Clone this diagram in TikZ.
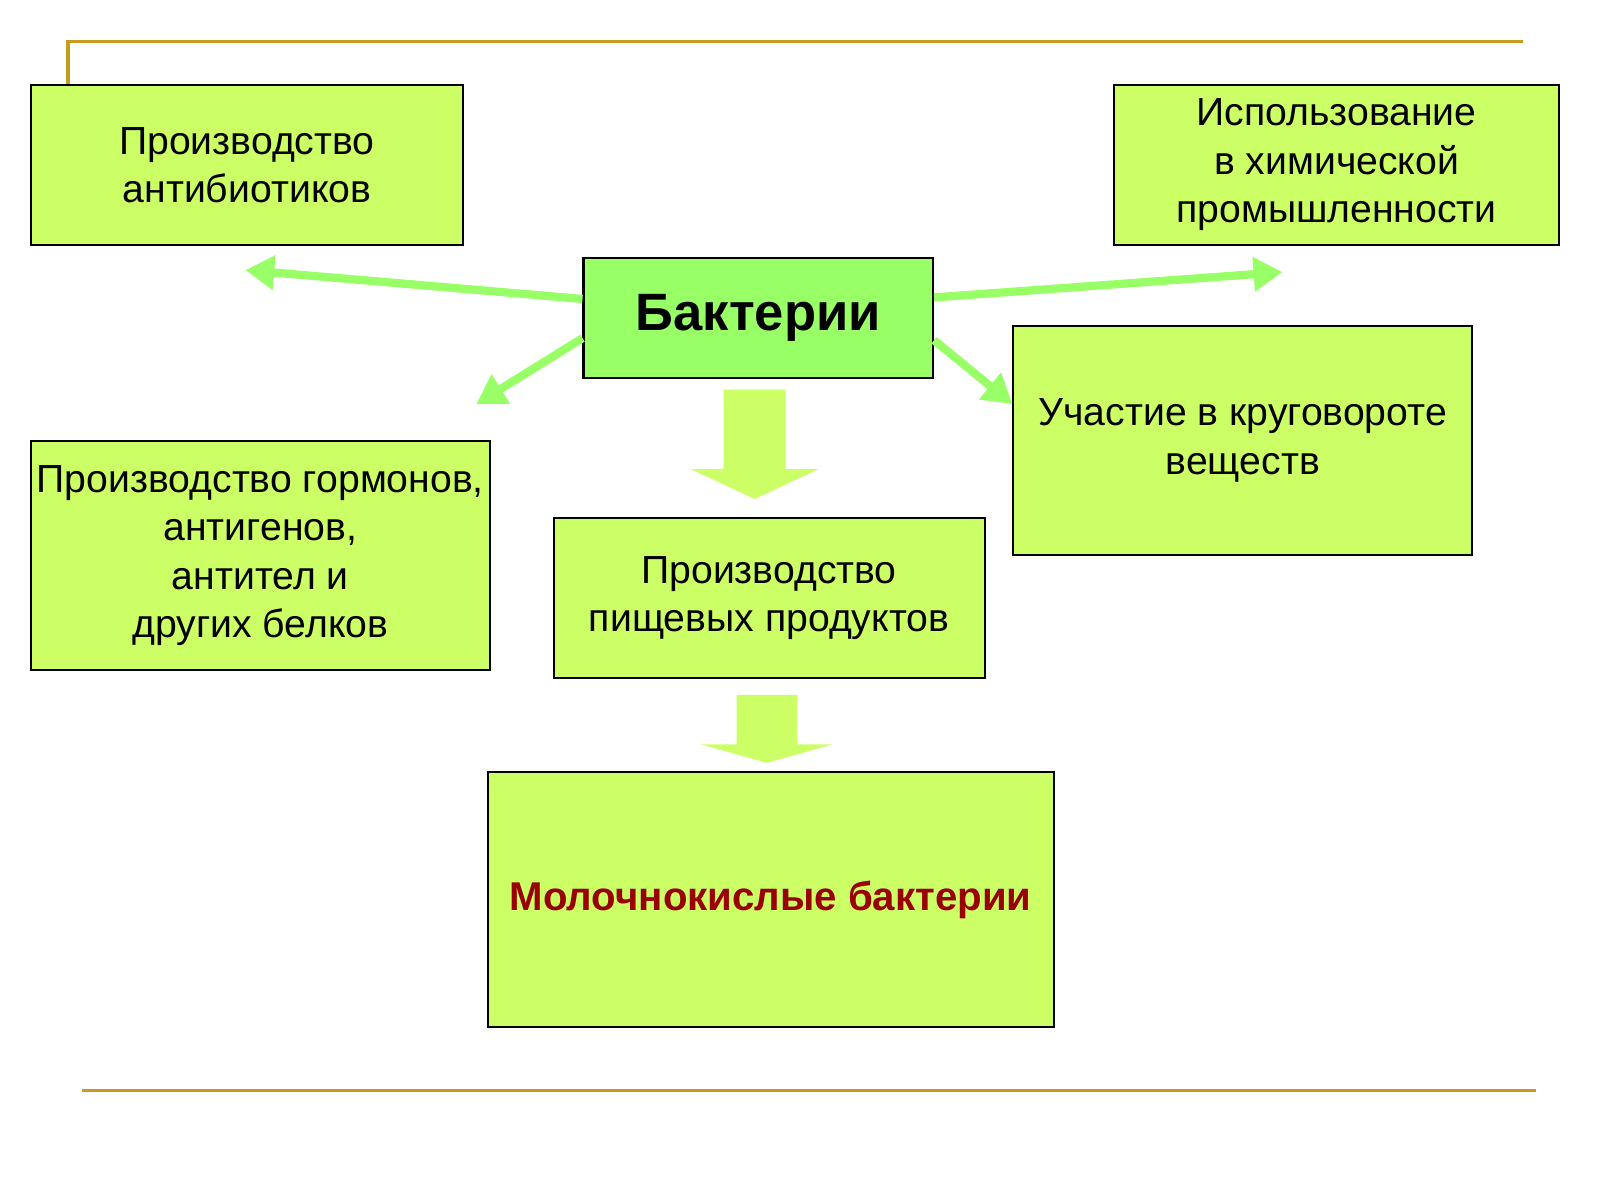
\documentclass[tikz,border=0pt]{standalone}
\usepackage{fontspec}
\setmainfont{Liberation Sans}
\usetikzlibrary{arrows.meta}
\definecolor{boxGreen}{HTML}{CCFF66}
\definecolor{coreGreen}{HTML}{99FF66}
\definecolor{arrowGreen}{HTML}{99FF66}
\definecolor{ruleGold}{RGB}{200,155,30}
\definecolor{darkRed}{HTML}{990000}
\newcommand{\bigdownarrow}[6]{%
  \fill[boxGreen] (#1-#5,#2) -- (#1+#5,#2) -- (#1+#5,#3) -- (#1+#6,#3) -- (#1,#4)
    -- (#1-#6,#3) -- (#1-#5,#3) -- cycle;}
\begin{document}
\begin{tikzpicture}[x=0.5pt, y=-0.5pt,
    boxStyle/.style={rectangle, draw, line width=1pt, fill=boxGreen, align=center, inner sep=0pt,
      font=\fontsize{19}{23.5}\selectfont},
    coreStyle/.style={rectangle, draw, line width=1pt, fill=coreGreen, inner sep=0pt,
      font=\fontsize{25.5}{29}\selectfont\bfseries},
    linkStyle/.style={draw=arrowGreen, line width=4pt, -{Triangle[length=14pt, width=16pt]}},
    ruleStyle/.style={draw=ruleGold, line width=1.5pt}]
    \useasboundingbox (0,0) rectangle (1552,1164);
    \draw[ruleStyle] (66,82) -- (66,40) -- (1477,40);
    \draw[ruleStyle] (80,1058) -- (1490,1058);
    \node[boxStyle, minimum width=209.5pt, minimum height=78pt]   (antib)  at ( 239.5, 160)   {Производство\\ антибиотиков};
    \node[boxStyle, minimum width=215.5pt, minimum height=78pt]   (chem)   at (1296.5, 160)   {Использование\\в химической\\промышленности};
    \node[coreStyle, minimum width=169.5pt, minimum height=58.5pt] (bact)  at ( 735.5, 308.5) {Бактерии};
    \node[boxStyle, minimum width=222.5pt, minimum height=111pt]  (cycle)  at (1205.5, 427)   {Участие в круговороте\\веществ};
    \node[boxStyle, minimum width=222.5pt, minimum height=111pt]  (horm)   at ( 252.5, 539)   {Производство гормонов,\\антигенов,\\антител и\\ других белков};
    \node[boxStyle, minimum width=209pt,   minimum height=78pt]   (food)   at ( 746,   580)   {Производство\\ пищевых продуктов};
    \node[boxStyle, minimum width=274.5pt, minimum height=123.5pt, text=darkRed, font=\fontsize{19.5}{23.5}\selectfont\bfseries]
                                                                  (lactic) at ( 747.5, 872.5) {Молочнокислые бактерии};
    \coordinate (antibTip) at ( 238, 262);
    \coordinate (hormTip)  at ( 462, 392);
    \coordinate (chemTip)  at (1244, 264);
    \coordinate (cycleTip) at ( 982, 392);
    \draw[linkStyle] ([yshift=9.25pt]bact.west)  -- (antibTip);
    \draw[linkStyle] ([yshift=-9.75pt]bact.west) -- (hormTip);
    \draw[linkStyle] ([yshift=10pt]bact.east)    -- (chemTip);
    \draw[linkStyle] ([yshift=-10.75pt]bact.east) -- (cycleTip);
    \bigdownarrow{732}{378}{455}{484}{30}{62}
    \bigdownarrow{744}{674}{722}{740}{29.5}{64}
\end{tikzpicture}
\end{document}
